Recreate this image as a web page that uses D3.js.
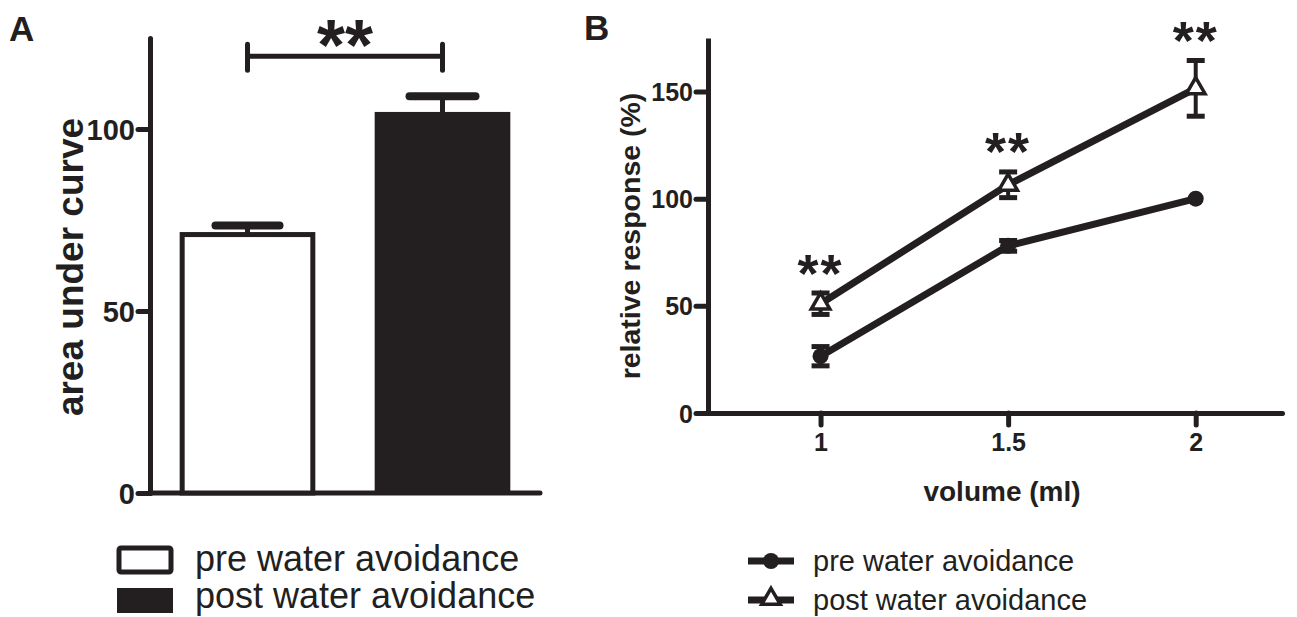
<!DOCTYPE html>
<html><head><meta charset="utf-8">
<script src="https://cdn.jsdelivr.net/npm/d3@7/dist/d3.min.js"></script>
<style>body{margin:0;background:#fff}svg{display:block}</style>
</head><body>
<svg id="c" width="1297" height="617"></svg>
<script>
// Panel A data
const barGroups = ["pre water avoidance", "post water avoidance"];
const barMeans = [71, 104];
const barErr = [2.5, 5];
const barTicks = [0, 50, 100];
// Panel B data
const volumes = [1, 1.5, 2];
const preMeans = [26.5, 78, 100];
const preErr = [4.5, 2.5, 0];
const postMeans = [51, 106.5, 151.5];
const postErr = [5, 6, 13];
const lineTicksY = [0, 50, 100, 150];
const lineTicksX = [1, 1.5, 2];
const sigLabel = "**";

const ink = "#231f20";
const svg = d3.select("#c");
const font = "'Liberation Sans',Arial,sans-serif";

// ---------- Panel A ----------
const yA = d3.scaleLinear().domain([0, 125]).range([493, 38]);
const xA = d3.scaleBand().domain(barGroups).range([150, 540]).paddingInner(0.33).paddingOuter(0.165);
const gA = svg.append("g");
const axA = gA.append("g").attr("transform", "translate(150,0)")
  .call(d3.axisLeft(yA).tickValues(barTicks).tickSize(12).tickSizeOuter(0).tickPadding(3));
axA.select(".domain").attr("stroke", ink).attr("stroke-width", 5).attr("stroke-linecap","round");
axA.selectAll(".tick line").attr("stroke", ink).attr("stroke-width", 5).attr("stroke-linecap","round");
axA.selectAll(".tick text").attr("fill", ink).attr("font-family", font).attr("font-weight", "bold").attr("font-size", 29).attr("dy","0.36em");
gA.append("line").attr("x1", 150).attr("x2", 540).attr("y1", yA(0)).attr("y2", yA(0))
  .attr("stroke", ink).attr("stroke-width", 5).attr("stroke-linecap","round");

barGroups.forEach((g, i) => {
  const cx = xA(g) + xA.bandwidth() / 2;
  const capW = i === 0 ? 32 : 33;
  gA.append("line").attr("x1", cx).attr("x2", cx).attr("y1", yA(barMeans[i])).attr("y2", yA(barMeans[i] + barErr[i]))
    .attr("stroke", ink).attr("stroke-width", 5);
  gA.append("line").attr("x1", cx - capW).attr("x2", cx + capW).attr("y1", yA(barMeans[i] + barErr[i])).attr("y2", yA(barMeans[i] + barErr[i]))
    .attr("stroke", ink).attr("stroke-width", 8).attr("stroke-linecap","round");
  if (i === 0) {
    gA.append("rect").attr("x", xA(g)).attr("y", yA(barMeans[i])).attr("width", xA.bandwidth()).attr("height", yA(0) - yA(barMeans[i]))
      .attr("fill", "#fff").attr("stroke", ink).attr("stroke-width", 5);
  } else {
    gA.append("rect").attr("x", xA(g) - 2.5).attr("y", yA(barMeans[i]) - 2.5).attr("width", xA.bandwidth() + 5).attr("height", yA(0) - yA(barMeans[i]) + 2.5)
      .attr("fill", ink);
  }
});
// significance bracket
const c0 = xA(barGroups[0]) + xA.bandwidth() / 2, c1 = xA(barGroups[1]) + xA.bandwidth() / 2;
const bY = yA(120);
gA.append("line").attr("x1", c0).attr("x2", c1).attr("y1", bY).attr("y2", bY).attr("stroke", ink).attr("stroke-width", 5);
[c0, c1].forEach(c => gA.append("line").attr("x1", c).attr("x2", c).attr("y1", bY - 12).attr("y2", bY + 14)
  .attr("stroke", ink).attr("stroke-width", 5).attr("stroke-linecap","round"));
gA.append("text").attr("x", (c0 + c1) / 2).attr("y", 70).attr("text-anchor", "middle")
  .attr("font-family", font).attr("font-weight", "bold").attr("font-size", 72).attr("fill", ink).text(sigLabel);
gA.append("text").attr("x", 70).attr("y", 267).attr("transform", "rotate(-90,70,267)").attr("text-anchor", "middle").attr("dy","0.36em")
  .attr("font-family", font).attr("font-weight", "bold").attr("font-size", 37).attr("fill", ink).text("area under curve");
gA.append("text").attr("x", 9).attr("y", 41).attr("font-family", font).attr("font-weight", "bold").attr("font-size", 35).attr("fill", ink).text("A");

// Legend A
const lgA = svg.append("g");
lgA.append("rect").attr("x", 119).attr("y", 548).attr("width", 52).attr("height", 24).attr("fill", "#fff").attr("stroke", ink).attr("stroke-width", 5).attr("rx", 2);
lgA.append("rect").attr("x", 117).attr("y", 588).attr("width", 56).attr("height", 25).attr("fill", ink);
lgA.append("text").attr("x", 195).attr("y", 571).attr("font-family", font).attr("font-size", 36).attr("fill", ink).text(barGroups[0]);
lgA.append("text").attr("x", 195).attr("y", 608).attr("font-family", font).attr("font-size", 36).attr("fill", ink).text(barGroups[1]);

// ---------- Panel B ----------
const yB = d3.scaleLinear().domain([0, 175]).range([413, 38]);
const xB = d3.scaleLinear().domain([0.7, 2.23]).range([708, 1282]);
const gB = svg.append("g");
const axBY = gB.append("g").attr("transform", "translate(708,0)")
  .call(d3.axisLeft(yB).tickValues(lineTicksY).tickSize(12).tickSizeOuter(0).tickPadding(3));
axBY.select(".domain").attr("stroke", ink).attr("stroke-width", 5);
axBY.selectAll(".tick line").attr("stroke", ink).attr("stroke-width", 5).attr("stroke-linecap","round");
axBY.selectAll(".tick text").attr("fill", ink).attr("font-family", font).attr("font-weight", "bold").attr("font-size", 25).attr("dy","0.36em");
const axBX = gB.append("g").attr("transform", "translate(0,413)")
  .call(d3.axisBottom(xB).tickValues(lineTicksX).tickFormat(d3.format("")).tickSize(12).tickSizeOuter(0).tickPadding(8));
axBX.select(".domain").attr("stroke", ink).attr("stroke-width", 5).attr("stroke-linecap","round");
axBX.selectAll(".tick line").attr("stroke", ink).attr("stroke-width", 5).attr("stroke-linecap","round");
axBX.selectAll(".tick text").attr("fill", ink).attr("font-family", font).attr("font-weight", "bold").attr("font-size", 25);

const lineGen = d3.line().x((d, i) => xB(volumes[i])).y(d => yB(d));
gB.append("path").attr("d", lineGen(preMeans)).attr("fill", "none").attr("stroke", ink).attr("stroke-width", 7);
gB.append("path").attr("d", lineGen(postMeans)).attr("fill", "none").attr("stroke", ink).attr("stroke-width", 7);

function errBars(means, errs, cap) {
  means.forEach((m, i) => {
    if (!errs[i]) return;
    const x = xB(volumes[i]);
    gB.append("line").attr("x1", x).attr("x2", x).attr("y1", yB(m - errs[i])).attr("y2", yB(m + errs[i])).attr("stroke", ink).attr("stroke-width", 4);
    [m - errs[i], m + errs[i]].forEach(v => gB.append("line").attr("x1", x - cap).attr("x2", x + cap).attr("y1", yB(v)).attr("y2", yB(v)).attr("stroke", ink).attr("stroke-width", 5));
  });
}
errBars(preMeans, preErr, 9);
errBars(postMeans, postErr, 9);
preMeans.forEach((m, i) => gB.append("circle").attr("cx", xB(volumes[i])).attr("cy", yB(m)).attr("r", 8).attr("fill", ink));
const tri = d3.symbol().type(d3.symbolTriangle).size(150);
postMeans.forEach((m, i) => gB.append("path").attr("d", tri()).attr("transform", `translate(${xB(volumes[i])},${yB(m)})`)
  .attr("fill", "#fff").attr("stroke", ink).attr("stroke-width", 3.5));

// stars
const starBase = [292, 170, 59];
volumes.forEach((v, i) => gB.append("text").attr("x", xB(v)).attr("y", starBase[i]).attr("text-anchor", "middle")
  .attr("font-family", font).attr("font-weight", "bold").attr("font-size", 54).attr("letter-spacing", 2).attr("fill", ink).text(sigLabel));

gB.append("text").attr("x", 630).attr("y", 236).attr("transform", "rotate(-90,630,236)").attr("text-anchor", "middle").attr("dy","0.36em")
  .attr("font-family", font).attr("font-weight", "bold").attr("font-size", 28.5).attr("fill", ink).text("relative response (%)");
gB.append("text").attr("x", 1002).attr("y", 501).attr("text-anchor", "middle")
  .attr("font-family", font).attr("font-weight", "bold").attr("font-size", 28).attr("fill", ink).text("volume (ml)");
gB.append("text").attr("x", 584).attr("y", 40).attr("font-family", font).attr("font-weight", "bold").attr("font-size", 35).attr("fill", ink).text("B");

// Legend B
const lgB = svg.append("g");
[561, 600].forEach((y, i) => {
  lgB.append("line").attr("x1", 748).attr("x2", 794).attr("y1", y).attr("y2", y).attr("stroke", ink).attr("stroke-width", 7);
  lgB.append("text").attr("x", 813).attr("y", y + 10).attr("font-family", font).attr("font-size", 29).attr("fill", ink).text(barGroups[i]);
});
lgB.append("circle").attr("cx", 771).attr("cy", 561).attr("r", 8).attr("fill", ink);
lgB.append("path").attr("d", tri()).attr("transform", "translate(771,599)").attr("fill", "#fff").attr("stroke", ink).attr("stroke-width", 3.5);
</script>
</body></html>
